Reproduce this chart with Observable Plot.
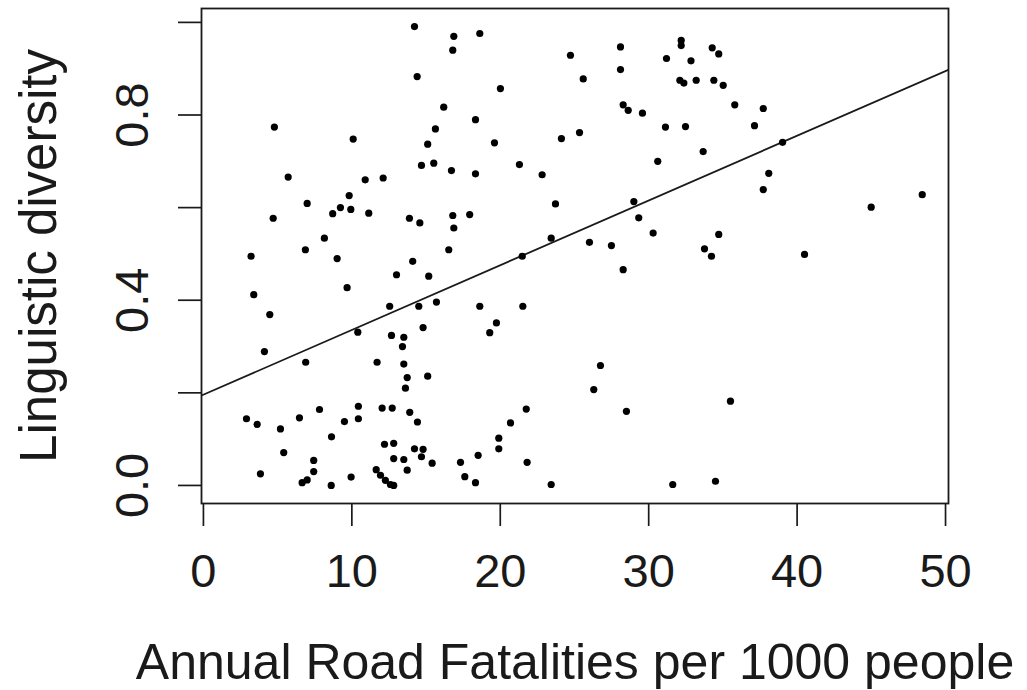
<!DOCTYPE html>
<html>
<head>
<meta charset="utf-8">
<script src="https://cdn.jsdelivr.net/npm/d3@7"></script>
<script src="https://cdn.jsdelivr.net/npm/@observablehq/plot@0.6"></script>
<style>
  html, body { margin: 0; padding: 0; background: #fff; }
  #chart svg { display: block; }
</style>
</head>
<body>
<div id="chart"></div>
<script>
// Annual road fatalities per 1000 people (x) and linguistic diversity (y)
const fatalities = [
  14.22, 14.40, 16.19, 15.63, 15.11, 14.69, 15.52, 4.78, 10.09, 5.71,
  10.90, 12.11, 9.82, 6.99, 9.23, 8.71, 9.93, 11.14, 4.70, 13.88,
  14.58, 8.15, 6.87, 3.21, 9.01, 14.10,
  13.01, 15.18, 3.39, 9.68, 4.47, 12.55, 14.51, 15.70, 10.40, 14.80,
  12.67, 13.50, 13.41, 4.11, 6.89, 11.70, 13.50, 13.73, 15.11, 13.61,
  7.82, 10.44, 12.04, 12.72, 2.90, 3.62, 6.47, 10.44, 9.50, 13.90,
  14.42, 5.19, 8.63, 5.41, 12.20, 12.82, 14.22, 14.80, 14.69, 12.82,
  13.50, 15.41, 7.43, 7.43, 13.73, 3.84, 6.65, 6.99, 8.61, 9.95,
  11.64, 11.93, 12.26, 12.60, 12.82,
  16.87, 16.80, 18.62, 20.01, 18.33, 19.61, 16.71, 18.33, 21.29, 22.82,
  16.80, 16.87, 17.94, 16.53, 23.72, 23.43, 21.48, 26.01, 27.49, 29.00,
  29.33, 30.30, 30.61, 24.12, 25.34, 24.73, 25.59, 28.10, 28.10, 28.28,
  28.62, 29.58, 31.13, 32.48, 31.20, 32.19, 32.19, 32.85, 32.10, 32.37,
  34.28, 34.72, 33.20, 34.39, 35.02, 35.80, 37.72, 37.13, 33.67, 39.02,
  38.09, 37.72, 44.99, 48.43, 34.72, 33.76, 34.23, 40.50,
  28.28, 18.62, 21.52, 19.74, 19.29, 26.75, 26.30, 28.50, 21.75, 20.69,
  19.90, 19.90, 18.51, 17.32, 21.81, 17.61, 18.33, 23.43, 31.62,
  35.51, 34.50
];
const diversity = [
  0.991, 0.883, 0.817, 0.770, 0.737, 0.691, 0.696, 0.774, 0.748, 0.666,
  0.660, 0.664, 0.626, 0.609, 0.600, 0.587, 0.596, 0.588, 0.577, 0.577,
  0.567, 0.534, 0.509, 0.495, 0.490, 0.484,
  0.455, 0.452, 0.412, 0.427, 0.369, 0.387, 0.387, 0.396, 0.331, 0.341,
  0.324, 0.320, 0.300, 0.289, 0.266, 0.266, 0.262, 0.233, 0.236, 0.210,
  0.164, 0.171, 0.167, 0.167, 0.144, 0.132, 0.146, 0.144, 0.138, 0.158,
  0.137, 0.122, 0.105, 0.071, 0.089, 0.091, 0.079, 0.078, 0.062, 0.058,
  0.056, 0.048, 0.054, 0.030, 0.033, 0.025, 0.006, 0.012, 0.000, 0.018,
  0.034, 0.022, 0.011, 0.002, 0.000,
  0.970, 0.940, 0.976, 0.857, 0.790, 0.740, 0.680, 0.673, 0.693, 0.671,
  0.583, 0.556, 0.585, 0.509, 0.608, 0.534, 0.495, 0.525, 0.518, 0.613,
  0.578, 0.545, 0.700, 0.749, 0.762, 0.929, 0.878, 0.947, 0.898, 0.822,
  0.810, 0.804, 0.774, 0.775, 0.922, 0.961, 0.950, 0.917, 0.875, 0.869,
  0.945, 0.932, 0.875, 0.875, 0.864, 0.822, 0.814, 0.777, 0.721, 0.741,
  0.674, 0.639, 0.601, 0.628, 0.542, 0.511, 0.495, 0.499,
  0.466, 0.387, 0.387, 0.351, 0.330, 0.259, 0.207, 0.160, 0.165, 0.135,
  0.102, 0.079, 0.065, 0.050, 0.050, 0.019, 0.006, 0.002, 0.002,
  0.182, 0.009
];

// Fitted least-squares line (intercept, slope)
const fitIntercept = 0.196;
const fitSlope = 0.01398;

const xTicks = [0, 10, 20, 30, 40, 50];
const yTicks = [0, 0.2, 0.4, 0.6, 0.8, 1.0];
const yTickLabels = [0, 0.4, 0.8];
const xTitle = "Annual Road Fatalities per 1000 people";
const yTitle = "Linguistic diversity";

const xDomain = [-0.13, 50.2];
const yDomain = [-0.039, 1.03];

const data = fatalities.map((x, i) => ({x, y: diversity[i]}));
const fitLine = xDomain.map(x => ({x, y: fitIntercept + fitSlope * x}));

const ink = "#1a1a1a";
const font = "'Liberation Sans', Arial, Helvetica, sans-serif";

const chart = Plot.plot({
  width: 1027,
  height: 690,
  marginLeft: 201,
  marginRight: 79,
  marginTop: 8,
  marginBottom: 187,
  x: {domain: xDomain},
  y: {domain: yDomain},
  style: {background: "#fff", color: ink, fontFamily: font},
  marks: [
    Plot.axisX({ticks: xTicks, tickSize: 23, tickFormat: () => "", label: null, strokeWidth: 1.7, stroke: ink}),
    Plot.axisY({ticks: yTicks, tickSize: 23, tickFormat: () => "", label: null, strokeWidth: 1.7, stroke: ink}),
    Plot.text(xTicks, {x: d => d, frameAnchor: "bottom", lineAnchor: "top", textAnchor: "middle", dy: 50, text: d => String(d), fontSize: 47, fill: ink}),
    Plot.text(yTickLabels, {y: d => d, frameAnchor: "left", rotate: -90, lineAnchor: "bottom", textAnchor: "middle", dx: -54, text: d => d.toFixed(1), fontSize: 47, fill: ink}),
    Plot.line(fitLine, {x: "x", y: "y", stroke: ink, strokeWidth: 1.8, clip: true}),
    Plot.dot(data, {x: "x", y: "y", r: 3.6, fill: "#000", stroke: "none"}),
    Plot.frame({stroke: ink, strokeWidth: 1.8}),
    Plot.text([xTitle], {frameAnchor: "bottom", lineAnchor: "bottom", textAnchor: "middle", dy: 175, text: d => d, fontSize: 50, fill: ink}),
    Plot.text([yTitle], {frameAnchor: "left", rotate: -90, lineAnchor: "bottom", textAnchor: "middle", dx: -146, text: d => d, fontSize: 51, fill: ink})
  ]
});
document.getElementById("chart").appendChild(chart);
</script>
</body>
</html>
